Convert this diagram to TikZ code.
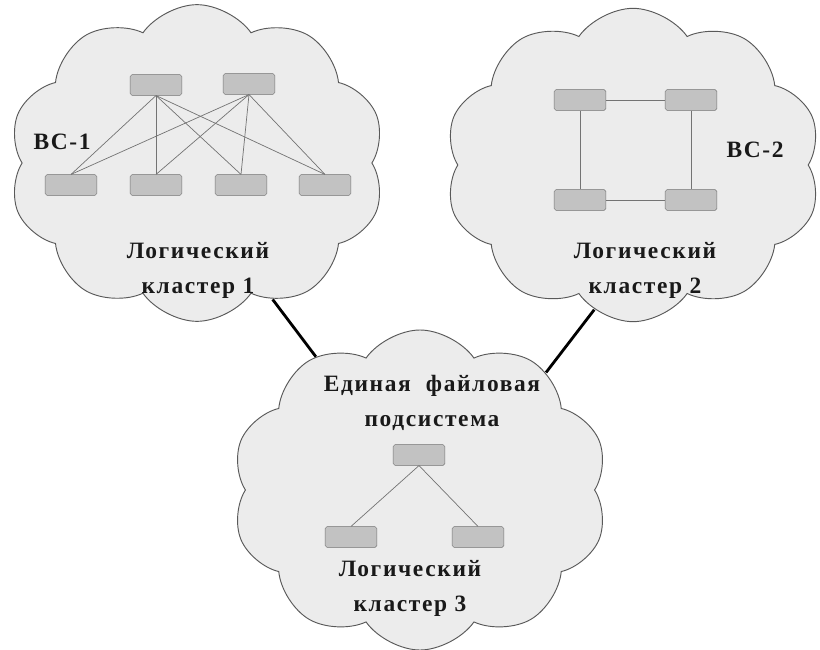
\documentclass[tikz,border=0pt]{standalone}
\usepackage{fontspec}
\setmainfont{Liberation Serif}
\usepackage{tikz}
\usetikzlibrary{shapes.symbols}
\tikzstyle{cluster} = [cloud, cloud puffs=10, cloud puff arc=110, draw=black!65, line width=0.8pt, fill=gray!15, cloud ignores aspect]
\tikzstyle{unit} = [draw=black!55, fill=gray!48, rounded corners=1.5pt, minimum width=1.55cm, minimum height=0.62cm, inner sep=0pt]
\tikzstyle{wire} = [draw=black!55, line width=0.6pt]
\tikzstyle{link} = [draw=black, line width=2.4pt]
\tikzstyle{caption} = [font=\fontsize{20}{30}\selectfont\bfseries\addfontfeatures{LetterSpace=7}, align=center, text=black!90]

\begin{document}
\begin{tikzpicture}[x=0.03cm, y=-0.03cm]
			\useasboundingbox (0,0) rectangle (820,649);
			\node[cluster, minimum width=11.3cm, minimum height=9.5cm] (c1) at (197,163) {};
			\node[cluster, minimum width=11.3cm, minimum height=9.4cm] (c2) at (633,165) {};
			\node[cluster, minimum width=11.3cm, minimum height=9.6cm] (c3) at (420,490) {};
			\draw[link] (c1.-61) -- (c3.128);
			\draw[link] (c2.255) -- (c3.43);
			% ВС-1: full bipartite
			\node[unit] (a1) at (156,85) {};
			\node[unit] (a2) at (249,84) {};
			\foreach \x [count=\i] in {71,156,241,325}
				\node[unit] (b\i) at (\x,185) {};
			\foreach \i in {1,2}
				\foreach \j in {1,...,4}
					\draw[wire] (a\i.south) -- (b\j.north);
			\node[caption] (n1) at (62,142) {ВС-1};
			\node[caption] (t1) at (198,270) {Логический\\кластер 1};
			% ВС-2: ring
			\node[unit] (p1) at (580,100) {};
			\node[unit] (p2) at (691,100) {};
			\node[unit] (p3) at (691,200) {};
			\node[unit] (p4) at (580,200) {};
			\draw[wire] (p1) -- (p2) -- (p3) -- (p4) -- (p1);
			\node[caption] (n2) at (755,150) {ВС-2};
			\node[caption] (t2) at (645,270) {Логический\\кластер 2};
			% file subsystem
			\node[caption] (f) at (432,403) {Единая~~файловая\\подсистема};
			\node[unit] (r) at (419,455) {};
			\node[unit] (r1) at (351,537) {};
			\node[unit] (r2) at (478,537) {};
			\draw[wire] (r.south) -- (r1.north);
			\draw[wire] (r.south) -- (r2.north);
			\node[caption] (t3) at (410,588) {Логический\\кластер 3};
		\end{tikzpicture}
\end{document}
